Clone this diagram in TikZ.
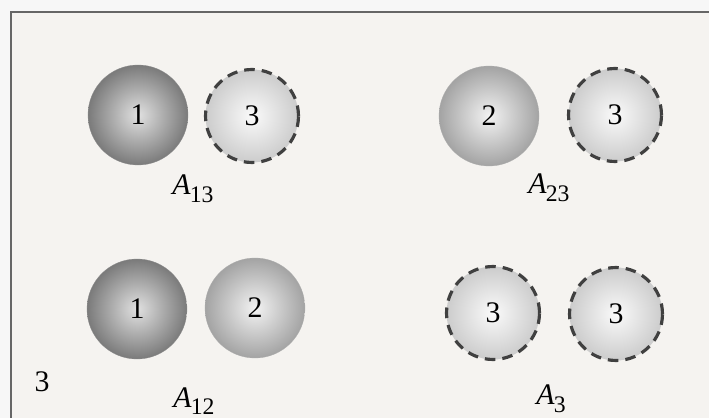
\documentclass[tikz,border=0pt]{standalone}
\usepackage{fontspec}
\setmainfont{Liberation Serif}
\newcommand\areasub[1]{\textit{A}\kern-0.5pt\raisebox{-0.55ex}{\fontsize{13.5}{14}\selectfont #1}}
\begin{document}
\begin{tikzpicture}[x=0.02cm, y=-0.02cm,
	every node/.style={font=\fontsize{17}{19}\selectfont},
	darkball/.style={circle, minimum size=2cm, inner sep=0pt, draw=black!45, line width=0.2pt, inner color=black!12, outer color=black!52},
	lightball/.style={circle, minimum size=2cm, inner sep=0pt, draw=black!32, line width=0.2pt, inner color=black!5, outer color=black!36},
	ghostball/.style={circle, minimum size=1.86cm, inner sep=0pt, draw=black!75, line width=1.8pt, dash pattern=on 6pt off 4pt, inner color=black!2, outer color=black!20}]

	\useasboundingbox (0,0) rectangle (709,418);
	\fill[white!97!black] (0,0) rectangle (709,418);
	\fill[black!4!white!98!orange] (11,12) rectangle (709,418);
	\draw[black!60, line width=1pt] (11,418) -- (11,12) -- (709,12);

	% A13
	\node (a1) [darkball] at (138,115) {1};
	\node (a3) [ghostball] at (252,116) {3};
	\node (la13) at (193,189) {\areasub{13}};

	% A23
	\node (b2) [lightball] at (489,116) {2};
	\node (b3) [ghostball] at (615,115) {3};
	\node (la23) at (549,188) {\areasub{23}};

	% A12
	\node (c1) [darkball] at (137,309) {1};
	\node (c2) [lightball] at (255,308) {2};
	\node (la12) at (194,401) {\areasub{12}};

	% A3
	\node (d1) [ghostball] at (493,313) {3};
	\node (d2) [ghostball] at (616,314) {3};
	\node (la3) at (551,399) {\areasub{3}};

	\node (side) at (42,382) {3};

\end{tikzpicture}
\end{document}
